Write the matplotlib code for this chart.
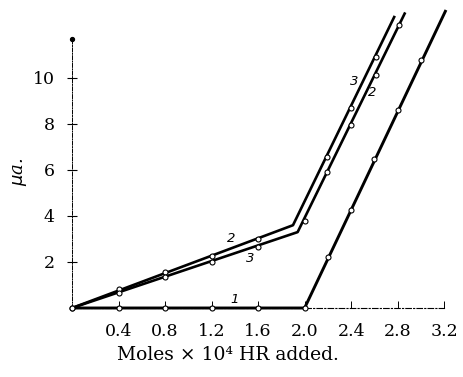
import matplotlib
matplotlib.use('Agg')
import matplotlib.pyplot as plt

# curve 1
c1_x = [0, 0.4, 0.8, 1.2, 1.6, 2.0, 2.2, 2.4, 2.6, 2.8, 3.0]
c1_y = [0, 0, 0, 0, 0, 0, 2.2, 4.25, 6.5, 8.6, 10.8]
c1_line_x = [0, 2.0, 3.21]
c1_line_y = [0, 0, 12.9]

# upper slow branch -> left steep branch
ca_x = [0, 0.4, 0.8, 1.2, 1.6, 2.19, 2.4, 2.61]
ca_y = [0, 0.83, 1.57, 2.26, 3.0, 6.57, 8.70, 10.91]
ca_line_x = [0, 1.90, 2.77]
ca_line_y = [0, 3.6, 12.65]

# lower slow branch -> right steep branch
cb_x = [0.4, 0.8, 1.2, 1.6, 2.0, 2.19, 2.4, 2.61, 2.81]
cb_y = [0.65, 1.35, 2.0, 2.65, 3.8, 5.91, 7.96, 10.13, 12.3]
cb_line_x = [0, 1.94, 2.86]
cb_line_y = [0, 3.3, 12.8]

labels = ['1', '2', '3', '3', '2']
label_x = [1.40, 1.37, 1.53, 2.43, 2.58]
label_y = [0.35, 3.0, 2.17, 9.83, 9.35]

xticks = [0.4, 0.8, 1.2, 1.6, 2.0, 2.4, 2.8, 3.2]
xticklabels = ['0.4', '0.8', '1.2', '1.6', '2.0', '2.4', '2.8', '3.2']
yticks = [2, 4, 6, 8, 10]

plt.rcParams['font.family'] = ['DejaVu Serif']

fig = plt.figure(figsize=(4.64, 3.77), dpi=100)
ax = fig.add_axes([72/464, 69/377, 378/464, 296.7/377])

mk = dict(marker='o', ls='none', ms=3.6, mfc='white', mec='black', mew=0.8, zorder=4)
ax.plot(c1_line_x, c1_line_y, color='black', lw=2.1, zorder=3, clip_on=False)
ax.plot(ca_line_x, ca_line_y, color='black', lw=1.9, zorder=3, clip_on=False)
ax.plot(cb_line_x, cb_line_y, color='black', lw=1.9, zorder=3, clip_on=False)
ax.plot(c1_x, c1_y, clip_on=False, **mk)
ax.plot(ca_x, ca_y, clip_on=False, **mk)
ax.plot(cb_x, cb_y, clip_on=False, **mk)

for t, x, y in zip(labels, label_x, label_y):
    ax.text(x, y, t, fontsize=9.5, family='DejaVu Sans', style='italic',
            ha='center', va='center')

# end mark on the vertical axis
ax.plot([0], [11.7], marker='o', ms=2.8, color='black', clip_on=False)

ax.set_xlim(0, 3.25)
ax.set_ylim(0, 12.9)
for s in ['top', 'right']:
    ax.spines[s].set_visible(False)
ax.spines['left'].set_bounds(0, 11.7)
ax.spines['left'].set_linestyle((0, (4, 1.5, 1, 1.5)))
ax.spines['left'].set_linewidth(0.7)
ax.spines['bottom'].set_bounds(0, 3.2)
ax.spines['bottom'].set_linestyle((0, (5, 2, 1, 2)))
ax.spines['bottom'].set_linewidth(0.8)

ax.set_xticks(xticks)
ax.set_xticklabels(xticklabels)
ax.set_yticks(yticks)
ax.tick_params(axis='x', direction='in', length=5, width=0.7, pad=11, labelsize=12.5)
ax.tick_params(axis='y', direction='inout', length=7, width=0.8, pad=9, labelsize=12.5)

fig.text(20/464, 1 - 172/377, r'$\mu$a.', rotation=90, fontsize=13,
         style='italic', ha='center', va='center')
fig.text(228/464, 1 - 355/377, 'Moles \u00d7 10\u2074 HR added.', fontsize=13.5,
         ha='center', va='center')

fig.savefig('out.png', dpi=100)
plt.close()
